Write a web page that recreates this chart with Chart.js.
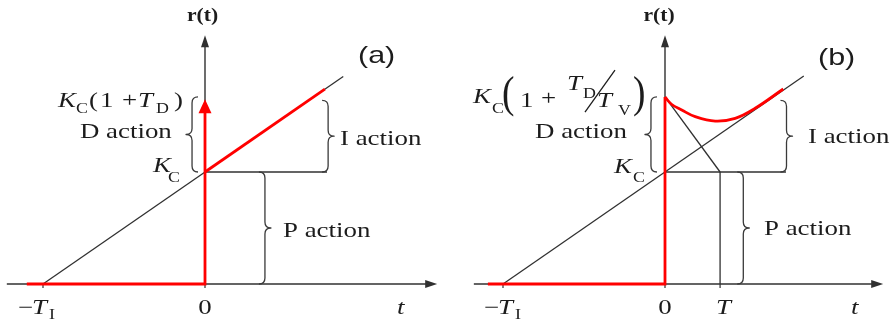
<!DOCTYPE html>
<html>
<head>
<meta charset="utf-8">
<script src="https://cdn.jsdelivr.net/npm/chart.js@4/dist/chart.umd.min.js"></script>
<style>
  html, body { margin: 0; padding: 0; background: #ffffff; }
  #wrap { position: relative; width: 892px; height: 324px; overflow: hidden; }
  canvas { position: absolute; top: 0; }
</style>
</head>
<body>
<div id="wrap">
  <canvas id="ca" width="446" height="324" style="left:0"></canvas>
  <canvas id="cb" width="446" height="324" style="left:446px"></canvas>
</div>
<script>
// ---------------- data (t in units where T_I = 3, T = 1; r in units of K_C) ----------------
const panelNames = ['(a)', '(b)'];
const tickValuesA = [-3, 0];
const tickValuesB = [-3, 0, 1.02];

// (a) ideal PID step response
const refLineA_t = [-3, 2.56];
const refLineA_r = [0, 1.853];
const kcLevelA_t = [0, 2.26];
const kcLevelA_r = [1, 1];
const redStepA_t = [-3.3, 0, 0];
const redStepA_r = [0, 0, 1.56];
const redArrowTipA = 1.65;          // K_C(1 + T_D) impulse arrow top
const redRampA_t = [0, 2.22];
const redRampA_r = [1, 1.74];

// (b) real PID step response
const refLineB_t = [-3, 2.57];
const refLineB_r = [0, 1.857];
const tangentB_t = [0, 1.02];
const tangentB_r = [1.67, 1];
const tVertB_t = [1.02, 1.02];
const tVertB_r = [1, 0];
const kcLevelB_t = [0, 2.24];
const kcLevelB_r = [1, 1];
const redStepB_t = [-3.28, 0, 0];
const redStepB_r = [0, 0, 1.67];
const redCurveB_t = [0, 0.12, 0.31, 0.56, 0.93, 1.30, 1.67, 2.19];
const redCurveB_r = [1.67, 1.605, 1.554, 1.494, 1.455, 1.479, 1.569, 1.741];

// ---------------- styling ----------------
const RED = '#ff0000';
const DARK = '#303030';
const TXT = '#1c1c1c';
const SERIF = '"Liberation Serif", "Times New Roman", serif';
const FONTS = {
  rm: '21px ' + SERIF,
  it: 'italic 21px ' + SERIF,
  sub: '14px ' + SERIF,
  big: '44px ' + SERIF,
  bold: 'bold 18px ' + SERIF,
  sans: '24px "Liberation Sans", Arial, sans-serif'
};
const SX = 1.28;

function pts(ts, rs) { return ts.map((t, i) => ({ x: t, y: rs[i] })); }

function lineDs(ts, rs, color, width, extra) {
  return Object.assign({
    data: pts(ts, rs), showLine: true, borderColor: color, borderWidth: width,
    pointRadius: 0, fill: false, tension: 0, borderJoinStyle: 'miter', borderCapStyle: 'butt'
  }, extra || {});
}

// annotation layouts (anchor in data coords, run offsets in px)
const layoutA = {
  xAxis: [-3.67, 4.30], yTop: 2.22,
  ticks: tickValuesA,
  braces: [
    { x: -0.24, y1: 1, y2: 1.67, dir: -1 },
    { x: 2.28, y1: 1, y2: 1.64, dir: 1 },
    { x: 1.11, y1: 0, y2: 1, dir: 1 }
  ],
  arrowTip: redArrowTipA,
  slash: null,
  labels: [
    { at: [-0.046, 2.348], align: 'center', runs: [['r(t)', 'bold', 0, 0, 1.2]] },
    { at: [2.833, 1.973], runs: [[panelNames[0], 'sans', 0, 0, 1.27]] },
    { at: [-2.722, 1.580], runs: [['K', 'it', 0, 0], ['C', 'sub', 18, 6], ['(', 'rm', 31, 0], ['1', 'rm', 42, 0], ['+', 'rm', 64, 0], ['T', 'it', 80, 0], ['D', 'sub', 98, 6], [')', 'rm', 116, 0]] },
    { at: [-2.315, 1.304], runs: [['D action', 'rm', 0, 0]] },
    { at: [-0.963, 1.0], runs: [['K', 'it', 0, 0], ['C', 'sub', 15, 10]] },
    { at: [2.5, 1.241], runs: [['I action', 'rm', 0, 0]] },
    { at: [1.444, 0.420], runs: [['P action', 'rm', 0, 0]] },
    { at: [-3.463, -0.268], runs: [['\u2212', 'rm', 0, 0], ['T', 'it', 14, 0], ['I', 'sub', 31, 5]] },
    { at: [0, -0.268], align: 'center', runs: [['0', 'rm', 0, 0]] },
    { at: [3.556, -0.268], runs: [['t', 'it', 0, 0]] }
  ]
};
const layoutB = {
  xAxis: [-3.54, 4.04], yTop: 2.22,
  ticks: tickValuesB,
  braces: [
    { x: -0.26, y1: 1, y2: 1.67, dir: -1 },
    { x: 2.25, y1: 1, y2: 1.64, dir: 1 },
    { x: 1.45, y1: 0, y2: 1, dir: 1 }
  ],
  arrowTip: null,
  slash: { at: [-3.556, 1.616], from: [112, 9], to: [142, -33] },
  labels: [
    { at: [-0.111, 2.348], align: 'center', runs: [['r(t)', 'bold', 0, 0, 1.2]] },
    { at: [2.833, 1.955], runs: [[panelNames[1], 'sans', 0, 0, 1.27]] },
    { at: [-3.556, 1.616], runs: [['K', 'it', 0, 0], ['C', 'sub', 19, 10], ['(', 'big', 29, 4, 0.85], ['1', 'rm', 47, 4], ['+', 'rm', 68, 2], ['T', 'it', 94, -13], ['D', 'sub', 110, -5], ['T', 'it', 124, 4], ['V', 'sub', 145, 12], [')', 'big', 160, 4, 0.85]] },
    { at: [-2.407, 1.304], runs: [['D action', 'rm', 0, 0]] },
    { at: [-0.944, 0.991], runs: [['K', 'it', 0, 0], ['C', 'sub', 19, 9]] },
    { at: [2.648, 1.259], runs: [['I action', 'rm', 0, 0]] },
    { at: [1.833, 0.4375], runs: [['P action', 'rm', 0, 0]] },
    { at: [-3.352, -0.268], runs: [['\u2212', 'rm', 0, 0], ['T', 'it', 14, 0], ['I', 'sub', 31, 5]] },
    { at: [0, -0.268], align: 'center', runs: [['0', 'rm', 0, 0]] },
    { at: [0.944, -0.268], runs: [['T', 'it', 0, 0]] },
    { at: [3.444, -0.268], runs: [['t', 'it', 0, 0]] }
  ]
};

function drawBrace(ctx, x0, yTop, yBot, d) {
  const r = 6, w = 6, ym = (yTop + yBot) / 2;
  ctx.beginPath();
  ctx.moveTo(x0 - d * r, yTop);
  ctx.quadraticCurveTo(x0, yTop, x0, yTop + r);
  ctx.lineTo(x0, ym - r);
  ctx.quadraticCurveTo(x0, ym, x0 + d * w, ym);
  ctx.quadraticCurveTo(x0, ym, x0, ym + r);
  ctx.lineTo(x0, yBot - r);
  ctx.quadraticCurveTo(x0, yBot, x0 - d * r, yBot);
  ctx.stroke();
}

function drawRun(ctx, text, font, x, y, sx) {
  ctx.save();
  ctx.translate(x, y);
  ctx.scale(sx, 1);
  ctx.font = FONTS[font];
  ctx.textAlign = 'left';
  ctx.textBaseline = 'alphabetic';
  ctx.fillText(text, 0, 0);
  ctx.restore();
}

const diagramPlugin = {
  id: 'diagram',
  beforeDatasetsDraw(chart) {
    const L = chart.options.plugins.diagram.layout;
    const ctx = chart.ctx, xs = chart.scales.x, ys = chart.scales.y;
    const X = v => xs.getPixelForValue(v), Y = v => ys.getPixelForValue(v);
    ctx.save();
    ctx.strokeStyle = DARK; ctx.fillStyle = DARK; ctx.lineWidth = 1.4;
    // x axis with arrow
    const y0 = Y(0), xa = X(L.xAxis[0]), xb = X(L.xAxis[1]);
    ctx.beginPath(); ctx.moveTo(xa, y0); ctx.lineTo(xb - 8, y0); ctx.stroke();
    ctx.beginPath(); ctx.moveTo(xb, y0); ctx.lineTo(xb - 12, y0 - 4); ctx.lineTo(xb - 12, y0 + 4); ctx.closePath(); ctx.fill();
    // y axis with arrow
    const x0 = X(0), yt = Y(L.yTop);
    ctx.beginPath(); ctx.moveTo(x0, y0); ctx.lineTo(x0, yt + 8); ctx.stroke();
    ctx.beginPath(); ctx.moveTo(x0, yt); ctx.lineTo(x0 - 4, yt + 12); ctx.lineTo(x0 + 4, yt + 12); ctx.closePath(); ctx.fill();
    // ticks
    ctx.lineWidth = 1.2;
    L.ticks.forEach(t => { ctx.beginPath(); ctx.moveTo(X(t), y0); ctx.lineTo(X(t), y0 + 4); ctx.stroke(); });
    ctx.restore();
  },
  afterDatasetsDraw(chart) {
    const L = chart.options.plugins.diagram.layout;
    const ctx = chart.ctx, xs = chart.scales.x, ys = chart.scales.y;
    const X = v => xs.getPixelForValue(v), Y = v => ys.getPixelForValue(v);
    ctx.save();
    // red impulse arrow head
    if (L.arrowTip !== null) {
      const x0 = X(0), yt = Y(L.arrowTip);
      ctx.fillStyle = RED;
      ctx.beginPath(); ctx.moveTo(x0, yt); ctx.lineTo(x0 - 6.5, yt + 14); ctx.lineTo(x0 + 6.5, yt + 14); ctx.closePath(); ctx.fill();
    }
    // braces
    ctx.strokeStyle = '#3a3a3a'; ctx.lineWidth = 1.3; ctx.lineJoin = 'round';
    L.braces.forEach(b => drawBrace(ctx, X(b.x), Y(b.y2), Y(b.y1), b.dir));
    // labels
    ctx.fillStyle = TXT;
    L.labels.forEach(lb => {
      let ax = X(lb.at[0]);
      const ay = Y(lb.at[1]);
      if (lb.align === 'center') {
        const r = lb.runs[0];
        ctx.font = FONTS[r[1]];
        ax -= ctx.measureText(r[0]).width * (r[4] || SX) / 2;
      }
      lb.runs.forEach(r => drawRun(ctx, r[0], r[1], ax + r[2], ay + r[3], r[4] || SX));
    });
    if (L.slash) {
      const sx0 = X(L.slash.at[0]), sy0 = Y(L.slash.at[1]);
      ctx.strokeStyle = TXT; ctx.lineWidth = 1.3;
      ctx.beginPath();
      ctx.moveTo(sx0 + L.slash.from[0], sy0 + L.slash.from[1]);
      ctx.lineTo(sx0 + L.slash.to[0], sy0 + L.slash.to[1]);
      ctx.stroke();
    }
    ctx.restore();
  }
};

function makeChart(id, datasets, xmin, xmax, layout) {
  return new Chart(document.getElementById(id), {
    type: 'scatter',
    data: { datasets },
    options: {
      responsive: false, animation: false, events: [], devicePixelRatio: 1,
      layout: { padding: 0 },
      plugins: { legend: { display: false }, tooltip: { enabled: false }, diagram: { layout } },
      scales: {
        x: { type: 'linear', min: xmin, max: xmax, display: false },
        y: { type: 'linear', min: -40 / 112, max: 284 / 112, display: false }
      }
    },
    plugins: [diagramPlugin]
  });
}

makeChart('ca', [
  lineDs(redStepA_t, redStepA_r, RED, 2.8),
  lineDs(redRampA_t, redRampA_r, RED, 2.8),
  lineDs(refLineA_t, refLineA_r, DARK, 1.3),
  lineDs(kcLevelA_t, kcLevelA_r, DARK, 1.3)
], -205 / 54, 241 / 54, layoutA);

makeChart('cb', [
  lineDs(redStepB_t, redStepB_r, RED, 2.8),
  lineDs(redCurveB_t, redCurveB_r, RED, 2.8, { tension: 0.4 }),
  lineDs(refLineB_t, refLineB_r, DARK, 1.3),
  lineDs(tangentB_t, tangentB_r, DARK, 1.3),
  lineDs(tVertB_t, tVertB_r, DARK, 1.3),
  lineDs(kcLevelB_t, kcLevelB_r, DARK, 1.3)
], -219 / 54, 227 / 54, layoutB);
</script>
</body>
</html>
